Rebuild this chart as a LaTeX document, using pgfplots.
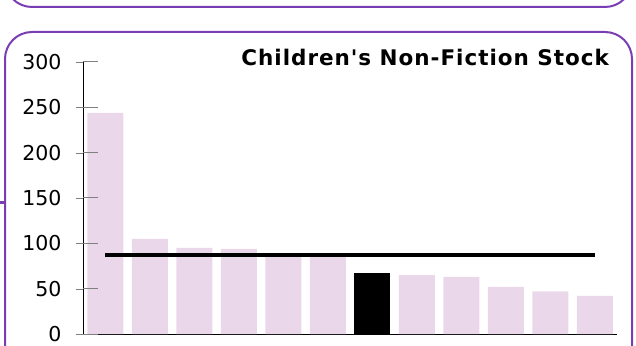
\documentclass[border=0pt]{standalone}
\usepackage{pgfplots}
\pgfplotsset{compat=1.18}
\usepackage{fontspec}
\setmainfont{DejaVu Sans}
\newfontfamily\titlefont{DejaVu Sans}[Ligatures=TeXOff]
\definecolor{frame}{RGB}{122,62,180}
\definecolor{barfill}{RGB}{234,216,234}

\begin{document}
\begin{tikzpicture}[x=1pt,y=1pt]
\useasboundingbox (0,0) rectangle (636,345);
\clip (0,0) rectangle (636,345);
% frames around the panel
\draw[frame, line width=2pt, rounded corners=27pt] (5,338) rectangle (632,500);
\draw[frame, line width=2pt, rounded corners=27pt] (5,-60) rectangle (632,313);
\draw[frame, line width=3pt] (0,142) -- (5,142);

\begin{axis}[
    at={(83pt,11pt)}, anchor=south west,
    scale only axis,
    width=534pt, height=272pt,
    xmin=-0.5, xmax=11.5,
    ymin=0, ymax=300,
    ytick={0,50,100,150,200,250,300},
    xtick=\empty,
    axis x line*=bottom,
    axis y line*=left,
    axis line style={black, line width=1pt, -},
    ytick align=outside,
    tickwidth=7pt,
    yticklabel style={font=\fontsize{20.5}{24}\selectfont, black, xshift=-11pt},
    /pgf/number format/assume math mode=true,
    clip=false,
]
\addplot[ybar, bar width=36pt, bar shift=0pt, fill=barfill, draw=none]
  coordinates {(0,244) (1,105) (2,95) (3,94) (4,86) (5,85)
               (7,65) (8,63) (9,52) (10,47) (11,42)};
\addplot[ybar, bar width=36pt, bar shift=0pt, fill=black, draw=none]
  coordinates {(6,67)};
\addplot[black, line width=3.5pt] coordinates {(0,87) (11,87)};
% grey tick marks left of the y axis
\pgfplotsinvokeforeach{0,50,100,150,200,250,300}{
  \draw[gray, line width=1pt] (axis cs:-0.5,#1) -- ++(-7pt,0);
}
\end{axis}

\node[anchor=base east, font=\fontsize{21.5}{24}\titlefont\bfseries\addfontfeature{LetterSpace=4.5}, inner sep=0pt]
  at (609,279) {Children's Non-Fiction Stock};
\end{tikzpicture}
\end{document}
